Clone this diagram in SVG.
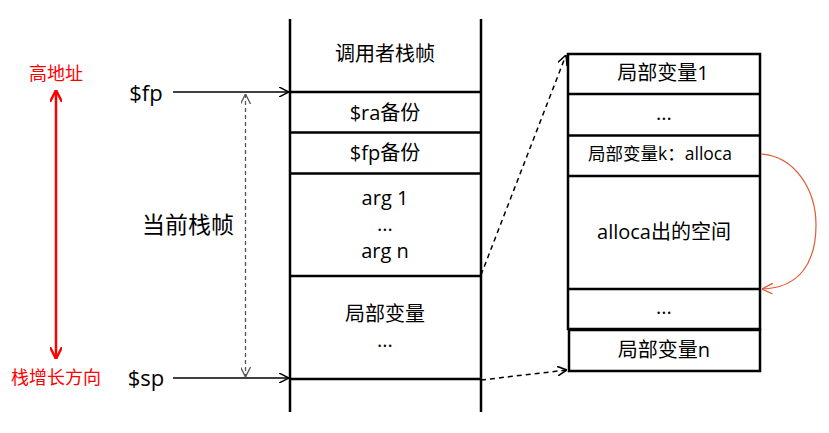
<svg xmlns="http://www.w3.org/2000/svg" width="829" height="433" viewBox="0 0 829 433">
<defs>
<style>
text{font-family:"Open Sans","Noto Sans CJK SC",sans-serif;fill:#000;text-anchor:middle;dominant-baseline:central}
.red{fill:#ff0000}
.box{fill:none;stroke:#000;stroke-width:2.5}
.ln{stroke:#000;stroke-width:2.5}
.arr{stroke:#000;stroke-width:1.5;fill:none}
</style>
<marker id="ah" viewBox="0 0 10 10" refX="10" refY="5" markerWidth="10" markerHeight="10" markerUnits="userSpaceOnUse" orient="auto"><path d="M0,0 L10,5 L0,10" fill="none" stroke="#000" stroke-width="1.5"/></marker>
<marker id="ahg" viewBox="0 0 10 10" refX="10" refY="5" markerWidth="10" markerHeight="10" markerUnits="userSpaceOnUse" orient="auto-start-reverse"><path d="M0,0 L10,5 L0,10" fill="none" stroke="#555" stroke-width="1.3"/></marker>
<marker id="ahr" viewBox="0 0 10 10" refX="10" refY="5" markerWidth="12" markerHeight="12" markerUnits="userSpaceOnUse" orient="auto-start-reverse"><path d="M0,0 L10,5 L0,10" fill="none" stroke="#ff0000" stroke-width="2"/></marker>
<marker id="aho" viewBox="0 0 10 10" refX="10" refY="5" markerWidth="11" markerHeight="11" markerUnits="userSpaceOnUse" orient="auto"><path d="M0,0 L10,5 L0,10" fill="none" stroke="#e05a33" stroke-width="1.2"/></marker>
</defs>

<g id="direction">
<text class="red" x="56" y="73" font-size="18">高地址</text>
<line x1="56" y1="90" x2="56" y2="359" stroke="#ff0000" stroke-width="2.5" marker-start="url(#ahr)" marker-end="url(#ahr)"/>
<text class="red" x="56" y="377" font-size="18">栈增长方向</text>
</g>

<g id="labels">
<text x="146" y="92" font-size="22">$fp</text>
<text x="146" y="377" font-size="22">$sp</text>
<text x="188" y="224" font-size="23">当前栈帧</text>
</g>

<g id="left-stack">
<line class="ln" x1="290" y1="19" x2="290" y2="412"/>
<line class="ln" x1="481" y1="19" x2="481" y2="412"/>
<line class="ln" x1="290" y1="92" x2="481" y2="92"/>
<line class="ln" x1="290" y1="132.5" x2="481" y2="132.5"/>
<line class="ln" x1="290" y1="173.5" x2="481" y2="173.5"/>
<line class="ln" x1="290" y1="276" x2="481" y2="276"/>
<line class="ln" x1="290" y1="379" x2="481" y2="379"/>
<text x="385" y="53" font-size="20">调用者栈帧</text>
<text x="385" y="112" font-size="20">$ra备份</text>
<text x="385" y="152" font-size="20">$fp备份</text>
<text x="385" y="197" font-size="20">arg 1</text>
<text x="385" y="223" font-size="20">...</text>
<text x="385" y="250" font-size="20">arg n</text>
<text x="385" y="313" font-size="20">局部变量</text>
<text x="385" y="339" font-size="20">...</text>
</g>

<g id="right-stack">
<rect class="box" x="568" y="54" width="192" height="275"/>
<line class="ln" x1="568" y1="94" x2="760" y2="94"/>
<line class="ln" x1="568" y1="135.5" x2="760" y2="135.5"/>
<line class="ln" x1="568" y1="176" x2="760" y2="176"/>
<line class="ln" x1="568" y1="289" x2="760" y2="289"/>
<rect class="box" x="569" y="330" width="191" height="41"/>
<text x="663" y="72" font-size="20">局部变量1</text>
<text x="664" y="112" font-size="20">...</text>
<text x="660" y="153" font-size="17.5">局部变量k：alloca</text>
<text x="664" y="231" font-size="20">alloca出的空间</text>
<text x="664" y="306" font-size="20">...</text>
<text x="664" y="349" font-size="20">局部变量n</text>
</g>

<g id="connectors">
<line class="arr" x1="173" y1="92" x2="289" y2="92" marker-end="url(#ah)"/>
<line class="arr" x1="173" y1="378" x2="289" y2="378" marker-end="url(#ah)"/>
<line x1="245.5" y1="94" x2="245.5" y2="377" stroke="#555" stroke-width="1.3" stroke-dasharray="4,3" marker-start="url(#ahg)" marker-end="url(#ahg)"/>
<line class="arr" x1="481" y1="275" x2="566" y2="55" stroke-width="1.3" stroke-dasharray="5,4" marker-end="url(#ah)"/>
<line class="arr" x1="481" y1="380" x2="567" y2="370" stroke-width="1.3" stroke-dasharray="5,4" marker-end="url(#ah)"/>
<path d="M761,154 C795,156 816,190 816,225 C816,262 800,288 762,289" fill="none" stroke="#e05a33" stroke-width="1.2" marker-end="url(#aho)"/>
</g>
</svg>
